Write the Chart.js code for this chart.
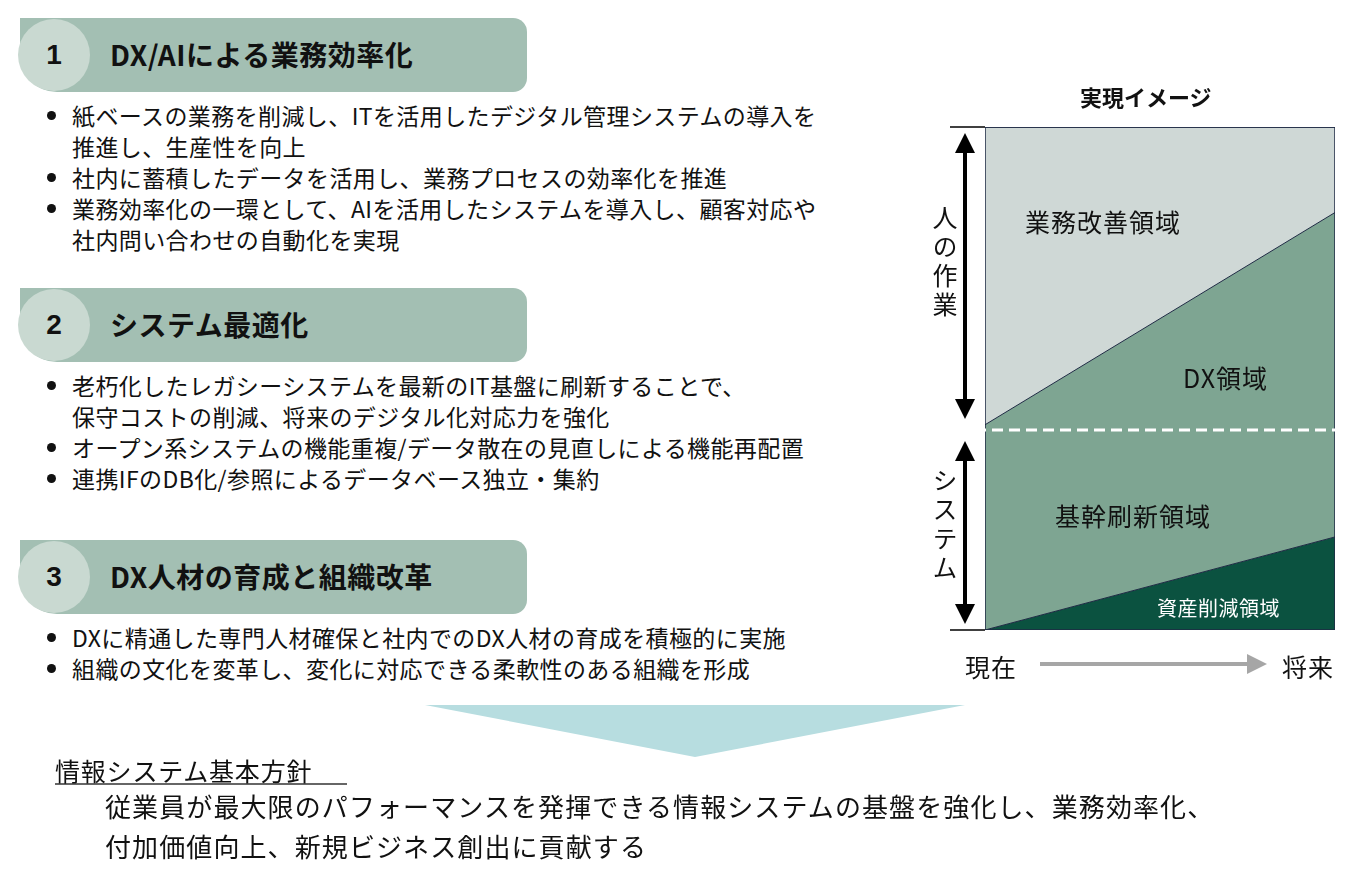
<!DOCTYPE html>
<html><head><meta charset="utf-8">
<script src="https://cdn.jsdelivr.net/npm/chart.js@4/dist/chart.umd.min.js"></script>
<style>
body{margin:0;width:1356px;height:873px;background:#fff;font-family:"Noto Sans CJK JP","Noto Sans",sans-serif;color:#111;position:relative;overflow:hidden}
.abs{position:absolute}
.bar{position:absolute;left:20px;width:507px;height:74px;background:#a3bfb3;border-radius:0 14px 14px 37px}
.circ{position:absolute;left:18px;width:72px;height:72px;border-radius:50%;background:#c9d9d1;font:bold 28px Arial,sans-serif;display:flex;align-items:center;justify-content:center}
.ttl{position:absolute;left:110px;font-weight:bold;font-size:28px;letter-spacing:0.5px}
ul{position:absolute;left:36px;margin:0;padding:0 0 0 36px;font-size:23px;line-height:31px;letter-spacing:0.4px}
#box{position:absolute;left:985px;top:127px;width:350px;height:503px}
.lbl{position:absolute;font-size:25px;letter-spacing:1px}
.vt{position:absolute;writing-mode:vertical-rl;font-size:25px;letter-spacing:4px}
</style></head><body>
<div class="bar" style="top:18px"></div><div class="circ" style="top:19px">1</div><div class="ttl" style="top:34px">DX/AIによる業務効率化</div>
<ul style="top:100px"><li>紙ベースの業務を削減し、ITを活用したデジタル管理システムの導入を<br>推進し、生産性を向上</li><li>社内に蓄積したデータを活用し、業務プロセスの効率化を推進</li><li>業務効率化の一環として、AIを活用したシステムを導入し、顧客対応や<br>社内問い合わせの自動化を実現</li></ul>
<div class="bar" style="top:288px"></div><div class="circ" style="top:289px">2</div><div class="ttl" style="top:304px">システム最適化</div>
<ul style="top:370px"><li>老朽化したレガシーシステムを最新のIT基盤に刷新することで、<br>保守コストの削減、将来のデジタル化対応力を強化</li><li>オープン系システムの機能重複/データ散在の見直しによる機能再配置</li><li>連携IFのDB化/参照によるデータベース独立・集約</li></ul>
<div class="bar" style="top:540px"></div><div class="circ" style="top:541px">3</div><div class="ttl" style="top:556px">DX人材の育成と組織改革</div>
<ul style="top:622px"><li>DXに精通した専門人材確保と社内でのDX人材の育成を積極的に実施</li><li>組織の文化を変革し、変化に対応できる柔軟性のある組織を形成</li></ul>
<svg class="abs" style="left:0;top:0" width="1356" height="873">
<polygon points="425,705 965,705 695,757" fill="#b7dde0"/>
<defs><marker id="ah" markerWidth="5" markerHeight="5" refX="4" refY="2.5" orient="auto-start-reverse"><path d="M0,0 L5,2.5 L0,5 z" fill="#000"/></marker>
<marker id="ag" markerWidth="5" markerHeight="5" refX="2" refY="2.5" orient="auto"><path d="M0,0 L5,2.5 L0,5 z" fill="#a6a6a6"/></marker></defs>
<line x1="965" y1="137" x2="965" y2="415" stroke="#000" stroke-width="4" marker-start="url(#ah)" marker-end="url(#ah)"/>
<line x1="965" y1="445" x2="965" y2="620" stroke="#000" stroke-width="4" marker-start="url(#ah)" marker-end="url(#ah)"/>
<line x1="950" y1="127" x2="985" y2="127" stroke="#000" stroke-width="1.5"/>
<line x1="950" y1="630" x2="985" y2="630" stroke="#000" stroke-width="1.5"/>
<line x1="1040" y1="664" x2="1255" y2="664" stroke="#a6a6a6" stroke-width="4" marker-end="url(#ag)"/>
<line x1="55" y1="784" x2="347" y2="784" stroke="#333" stroke-width="1.5"/>
</svg>
<div id="box"><canvas id="c"></canvas></div>
<svg class="abs" style="left:0;top:0;pointer-events:none" width="1356" height="873">
<line x1="958" y1="430" x2="1336" y2="430" stroke="#fff" stroke-width="3" stroke-dasharray="11,6"/>
</svg>
<div class="abs" style="left:1080px;top:80px;font-weight:bold;font-size:22px">実現イメージ</div>
<div class="vt" style="left:927px;top:205px">人の作業</div>
<div class="vt" style="left:927px;top:468px">システム</div>
<div class="lbl" style="left:1025px;top:203px">業務改善領域</div>
<div class="lbl" style="left:1183px;top:359px">DX領域</div>
<div class="lbl" style="left:1055px;top:497px">基幹刷新領域</div>
<div class="lbl" style="left:1157px;top:593px;color:#fff;font-size:20px;letter-spacing:0.5px">資産削減領域</div>
<div class="lbl" style="left:965px;top:648px">現在</div>
<div class="lbl" style="left:1282px;top:648px">将来</div>
<div class="abs" style="left:55px;top:752px;font-size:25px;letter-spacing:0.8px">情報システム基本方針</div>
<div class="abs" style="left:105px;top:786px;font-size:26px;line-height:40px;letter-spacing:1.1px">従業員が最大限のパフォーマンスを発揮できる情報システムの基盤を強化し、業務効率化、<br>付加価値向上、新規ビジネス創出に貢献する</div>
<script>
const periods = [0, 1];
const assetCut = [0, 18.5];
const dxTop = [40.8, 83];
const total = [100, 100];
const pts = a => a.map((v, i) => ({ x: periods[i], y: v }));
new Chart(document.getElementById('c'), {
  type: 'line',
  data: { datasets: [
    { data: pts(assetCut), fill: 'origin', backgroundColor: '#0b5240', borderColor: '#1f2a44', borderWidth: 1 },
    { data: pts(dxTop), fill: '-1', backgroundColor: '#7ea592', borderColor: '#1f2a44', borderWidth: 1 },
    { data: pts(total), fill: '-1', backgroundColor: '#cfd8d6', borderColor: '#1f2a44', borderWidth: 1.5 },
  ]},
  options: {
    responsive: true, maintainAspectRatio: false, animation: false,
    layout: { padding: 0 }, elements: { point: { radius: 0 }, line: { tension: 0 } },
    plugins: { legend: { display: false }, tooltip: { enabled: false } },
    scales: {
      x: { type: 'linear', min: 0, max: 1, display: false },
      y: { min: 0, max: 100, display: false },
    },
  },
  plugins: [{ id: 'frame', afterDraw(ch) { const { ctx, chartArea: a } = ch; ctx.save(); ctx.strokeStyle = '#1f2a44'; ctx.lineWidth = 1.5; ctx.strokeRect(a.left, a.top, a.right - a.left, a.bottom - a.top); ctx.restore(); } }],
});
</script>
</body></html>
